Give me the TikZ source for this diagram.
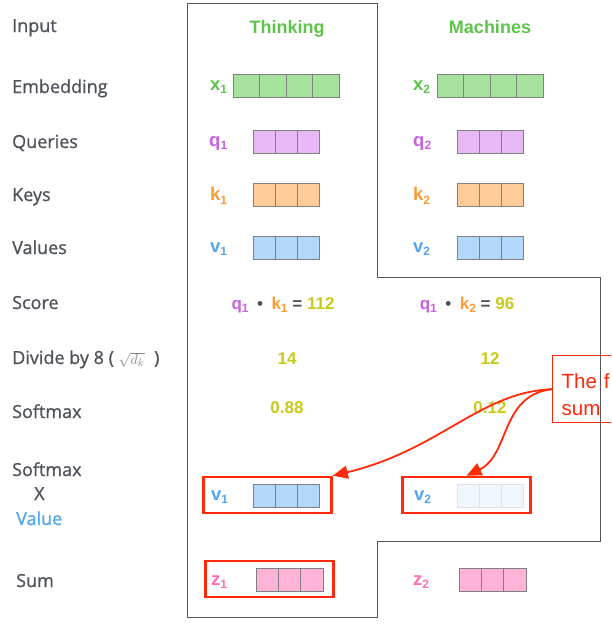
\documentclass[tikz,border=0pt]{standalone}
\usepackage{fontspec}
\setmainfont{Open Sans}
\newfontfamily\lblfont{Open Sans}[FakeBold=0.9]
\newfontfamily\hv{Liberation Sans}
\usetikzlibrary{arrows.meta,calc}
\definecolor{lblgray}{RGB}{78,83,90}
\definecolor{tgreen}{RGB}{92,196,72}
\definecolor{fgreen}{RGB}{165,226,156}
\definecolor{tpurple}{RGB}{198,99,224}
\definecolor{fpurple}{RGB}{230,184,244}
\definecolor{torange}{RGB}{255,153,51}
\definecolor{forange}{RGB}{255,204,153}
\definecolor{tblue}{RGB}{82,166,239}
\definecolor{fblue}{RGB}{178,215,250}
\definecolor{tolive}{RGB}{201,201,26}
\definecolor{tpink}{RGB}{255,110,180}
\definecolor{fpink}{RGB}{255,179,217}
\definecolor{ffade}{RGB}{240,246,253}
\definecolor{bfade}{RGB}{218,226,236}
\definecolor{redmark}{RGB}{255,42,10}
\definecolor{framegray}{RGB}{85,85,85}
\definecolor{cellgray}{RGB}{128,128,128}
\newcommand{\sbs}[1]{\raisebox{-0.35ex}{\fontsize{12}{13}\selectfont #1}}
% name, left x, center y, cells, cell width, fill, border
\newcommand{\vecbox}[7]{%
  \node[draw=#7, fill=#6, line width=0.8pt, inner sep=0pt, outer sep=0pt,
        minimum width=#4*#5, minimum height=22.5, anchor=west] (#1) at (#2,#3) {};
  \foreach \ci in {1,...,\numexpr#4-1\relax}{
    \draw[#7, line width=0.8pt] ([xshift=\ci*#5]#1.north west) -- ([xshift=\ci*#5]#1.south west);
  }%
}
\tikzset{
  rowlabel/.style={anchor=base west, inner sep=0pt, text=lblgray, font=\lblfont\fontsize{18}{21}\selectfont},
  title/.style={anchor=base, inner sep=0pt, text=tgreen, font=\hv\bfseries\fontsize{18}{20}\selectfont},
  vlabel/.style={anchor=west, inner sep=0pt, font=\hv\bfseries\fontsize{18.5}{21}\selectfont},
  valtext/.style={anchor=base, inner sep=0pt, text=tolive, font=\hv\bfseries\fontsize{17}{20}\selectfont},
  redbox/.style={draw=redmark, line width=2.6pt, minimum width=128, minimum height=36, inner sep=0pt},
  redarrow/.style={draw=redmark, line width=1.8pt, -{Triangle[length=15pt,width=13pt]}},
  frame/.style={draw=framegray, line width=1pt}
}
\begin{document}
\begin{tikzpicture}[x=1pt,y=-1pt]
\useasboundingbox (0,0) rectangle (611,629);
\clip (0,0) rectangle (611,629);
\fill[white] (0,0) rectangle (611,629);

% row labels
\node[rowlabel] (lInput) at (12,32) {Input};
\node[rowlabel] (lEmb) at (12,93) {Embedding};
\node[rowlabel] (lQ) at (12,148) {Queries};
\node[rowlabel] (lK) at (12,201) {Keys};
\node[rowlabel] (lV) at (12,254) {Values};
\node[rowlabel] (lScore) at (12,309) {Score};
\node[rowlabel] (lDiv) at (12,364) {Divide by 8 ( {\color{lblgray!70}\fontsize{15}{16}\selectfont$\sqrt{d_k}$} \;)};
\node[rowlabel] (lSoft) at (12,418) {Softmax};
\node[rowlabel] (lSoft2) at (12,476) {Softmax};
\node[rowlabel] (lX) at (34,500) {X};
\node[rowlabel, text=tblue] (lVal) at (16,525) {Value};
\node[rowlabel] (lSum) at (16,587) {Sum};

% titles
\node[title] (tThink) at (287,33) {Thinking};
\node[title] (tMach) at (490,33) {Machines};

% embeddings
\node[vlabel, text=tgreen] (x1l) at (210,87) {x\sbs{1}};
\vecbox{x1}{233}{86}{4}{26.5}{fgreen}{cellgray}
\node[vlabel, text=tgreen] (x2l) at (413,87) {x\sbs{2}};
\vecbox{x2}{437}{86}{4}{26.5}{fgreen}{cellgray}

% queries
\node[vlabel, text=tpurple] (q1l) at (209,143) {q\sbs{1}};
\vecbox{q1}{253}{142}{3}{22}{fpurple}{cellgray}
\node[vlabel, text=tpurple] (q2l) at (413,143) {q\sbs{2}};
\vecbox{q2}{457}{142}{3}{22}{fpurple}{cellgray}

% keys
\node[vlabel, text=torange] (k1l) at (210,196) {k\sbs{1}};
\vecbox{k1}{253}{195}{3}{22}{forange}{cellgray}
\node[vlabel, text=torange] (k2l) at (413,196) {k\sbs{2}};
\vecbox{k2}{457}{195}{3}{22}{forange}{cellgray}

% values
\node[vlabel, text=tblue] (v1l) at (210,249) {v\sbs{1}};
\vecbox{v1}{253}{248}{3}{22}{fblue}{cellgray}
\node[vlabel, text=tblue] (v2l) at (413,249) {v\sbs{2}};
\vecbox{v2}{457}{248}{3}{22}{fblue}{cellgray}

% score
\node[valtext] (s1) at (283,309) {\color{tpurple}q\sbs{1}\enspace\color{lblgray}\textbullet\enspace\color{torange}k\sbs{1} \color{lblgray}= \color{tolive}112};
\node[valtext] (s2) at (467,309) {\color{tpurple}q\sbs{1}\enspace\color{lblgray}\textbullet\enspace\color{torange}k\sbs{2} \color{lblgray}= \color{tolive}96};

% divide
\node[valtext] (d1) at (287,364) {14};
\node[valtext] (d2) at (490,364) {12};

% softmax
\node[valtext] (sm1) at (287,413) {0.88};
\node[valtext] (sm2) at (490,413) {0.12};

% softmax x value
\node[redbox] (rb1) at (267.5,495) {};
\node[vlabel, text=tblue] (wv1l) at (211,497) {v\sbs{1}};
\vecbox{wv1}{253}{496}{3}{22}{fblue}{cellgray}
\node[redbox] (rb2) at (466.5,495) {};
\node[vlabel, text=tblue] (wv2l) at (414,497) {v\sbs{2}};
\vecbox{wv2}{457}{496}{3}{22}{ffade}{bfade}

% sum
\node[redbox] (rb3) at (269.5,579) {};
\node[vlabel, text=tpink] (z1l) at (211,582) {z\sbs{1}};
\vecbox{z1}{256}{580}{3}{22.3}{fpink}{cellgray}
\node[vlabel, text=tpink] (z2l) at (413,582) {z\sbs{2}};
\vecbox{z2}{459}{580}{3}{22.3}{fpink}{cellgray}

% red note box
\node[draw=redmark, line width=1.4pt, anchor=north west, minimum height=67, text width=80pt,
      inner xsep=9pt, inner ysep=0pt, align=left, text=redmark, font=\hv\fontsize{20.5}{27}\selectfont] (note) at (552,355)
      {\rule{0pt}{25pt}The f\\sum};

% frame (drawn over the note, as in the reference)
\draw[frame] (187,3) -- (377,3) -- (377,277) -- (600,277) -- (600,541) -- (377,541) -- (377,617) -- (187,617) -- cycle;

% arrows
\draw[redarrow] (note.west) .. controls (480,392) and (440,450) .. (rb1.north east);
\draw[redarrow] (note.west) .. controls (500,395) and (510,455) .. (rb2.north);
\end{tikzpicture}
\end{document}
